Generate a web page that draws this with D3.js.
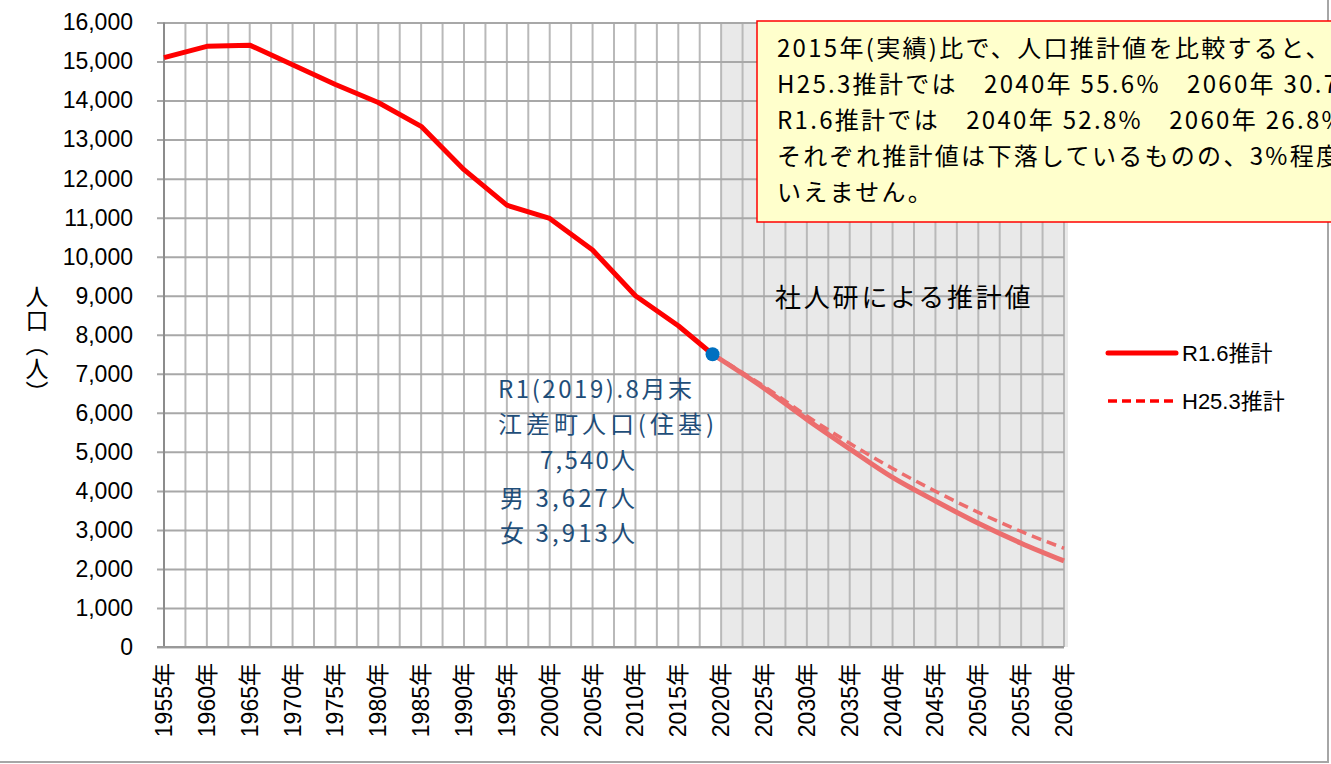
<!DOCTYPE html>
<html lang="ja">
<head>
<meta charset="UTF-8">
<script src="https://cdn.jsdelivr.net/npm/d3@7"></script>
<style>
  body { margin: 0; background: #fff; }
  svg { display: block; }
  text { font-family: "Liberation Sans", "Noto Sans CJK JP", sans-serif; }
  .jp { font-family: "Noto Sans CJK JP", sans-serif; }
</style>
</head>
<body>
<script>
// actual population (residents) and the two projections
var histYears  = [1955, 1960, 1965, 1970, 1975, 1980, 1985, 1990, 1995, 2000, 2005, 2010, 2015, 2019];
var histValues = [15100, 15390, 15420, 14920, 14410, 13950, 13340, 12230, 11320, 10980, 10170, 9000, 8230, 7500];

var projYears = [2019, 2025, 2030, 2035, 2040, 2045, 2050, 2055, 2060];
var r16Values = [7500, 6630, 5830, 5075, 4345, 3740, 3170, 2660, 2205];
var h25Values = [7500, 6680, 5920, 5220, 4575, 3990, 3450, 2960, 2530];

var tickYears = d3.range(1955, 2061, 5);
var gridYears = d3.range(1955, 2061, 2.5);
var yTicks = d3.range(0, 16001, 1000);

var legendLabels = ["R1.6推計", "H25.3推計"];
var noteLines = [
  "2015年(実績)比で、人口推計値を比較すると、",
  "H25.3推計では　2040年 55.6%　2060年 30.7%",
  "R1.6推計では　2040年 52.8%　2060年 26.8%",
  "それぞれ推計値は下落しているものの、3%程度",
  "いえません。"
];
var currentLines = ["R1(2019).8月末", "江差町人口(住基)", "7,540人", "男 3,627人", "女 3,913人"];

var W = 1331, H = 764;
var plotL = 164, plotR = 1064, plotT = 22.5, plotB = 647;

var svg = d3.select("body").append("svg")
  .attr("width", W)
  .attr("height", H);

// outer frame
svg.append("rect")
  .attr("x", -2).attr("y", -2)
  .attr("width", 1330).attr("height", 764)
  .attr("fill", "none").attr("stroke", "#a6a6a6").attr("stroke-width", 2);

var x = d3.scaleLinear().domain([1955, 2060]).range([plotL, plotR]);
var y = d3.scaleLinear().domain([0, 16000]).range([plotB, plotT]);

// projection period shading
svg.append("rect")
  .attr("x", x(2020)).attr("y", plotT)
  .attr("width", x(2060) - x(2020) + 4).attr("height", plotB - plotT)
  .attr("fill", "#e9e9e9");

// vertical grid
svg.append("g").selectAll("line").data(gridYears).enter().append("line")
  .attr("x1", function(d) { return x(d); })
  .attr("x2", function(d) { return x(d); })
  .attr("y1", plotT).attr("y2", plotB)
  .attr("stroke", "#b9b9b9").attr("stroke-width", 2);

// y axis with long ticks as horizontal grid
var yAxis = svg.append("g")
  .attr("transform", "translate(" + plotL + ",0)")
  .call(d3.axisLeft(y).tickValues(yTicks).tickSizeInner(-(plotR - plotL)).tickSizeOuter(0)
    .tickFormat(d3.format(",")).tickPadding(31));
yAxis.select(".domain").remove();
yAxis.selectAll(".tick line").attr("stroke", "#a8a8a8").attr("stroke-width", 2).attr("x1", -7);
yAxis.selectAll(".tick text").attr("font-size", 23).attr("fill", "#000")
  .style("font-family", "'Liberation Sans', sans-serif");

// axis lines
svg.append("line").attr("x1", plotL).attr("x2", plotL).attr("y1", plotT).attr("y2", plotB)
  .attr("stroke", "#8c8c8c").attr("stroke-width", 2);
svg.append("line").attr("x1", plotL - 7).attr("x2", plotR).attr("y1", plotB).attr("y2", plotB)
  .attr("stroke", "#999").attr("stroke-width", 2);

// x labels
svg.append("g").selectAll("text").data(tickYears).enter().append("text")
  .attr("transform", function(d) { return "translate(" + (x(d) + 8) + ",663) rotate(-90)"; })
  .attr("text-anchor", "end")
  .attr("font-size", 23)
  .text(function(d) { return d + "年"; });

// y title, vertical writing
svg.append("text")
  .attr("class", "jp")
  .attr("x", 37).attr("y", 285)
  .attr("font-size", 23)
  .attr("letter-spacing", 1)
  .style("writing-mode", "vertical-rl")
  .text("人口（人）");

var line = d3.line()
  .x(function(d) { return x(d[0]); })
  .y(function(d) { return y(d[1]); });
var smooth = d3.line()
  .curve(d3.curveMonotoneX)
  .x(function(d) { return x(d[0]); })
  .y(function(d) { return y(d[1]); });

svg.append("path")
  .attr("d", smooth(d3.zip(projYears, h25Values)))
  .attr("fill", "none").attr("stroke", "#ec6e6e").attr("stroke-width", 3.5)
  .attr("stroke-dasharray", "10,6");
svg.append("path")
  .attr("d", smooth(d3.zip(projYears, r16Values)))
  .attr("fill", "none").attr("stroke", "#ec6e6e").attr("stroke-width", 5);
svg.append("path")
  .attr("d", line(d3.zip(histYears, histValues)))
  .attr("fill", "none").attr("stroke", "#ff0000").attr("stroke-width", 5)
  .attr("stroke-linejoin", "round");

svg.append("circle")
  .attr("cx", x(histYears[histYears.length - 1]))
  .attr("cy", y(histValues[histValues.length - 1]))
  .attr("r", 7).attr("fill", "#0070c0");

// current population note
var curX = [498, 498, 540, 500, 500];
var curY = [398, 433, 469, 507, 542];
var curLen = [194, 216, 95, 135, 135];
svg.append("g").selectAll("text").data(currentLines).enter().append("text")
  .attr("class", "jp")
  .attr("x", function(d, i) { return curX[i]; })
  .attr("y", function(d, i) { return curY[i]; })
  .attr("textLength", function(d, i) { return curLen[i]; })
  .attr("font-size", 24)
  .attr("fill", "#1f4e79")
  .text(function(d) { return d; });

svg.append("text")
  .attr("class", "jp")
  .attr("x", 775).attr("y", 307)
  .attr("font-size", 26)
  .attr("letter-spacing", 2.8)
  .text("社人研による推計値");

// legend
svg.append("line").attr("x1", 1108).attr("x2", 1176).attr("y1", 353).attr("y2", 353)
  .attr("stroke", "#ff0000").attr("stroke-width", 5).attr("stroke-linecap", "round");
svg.append("line").attr("x1", 1108).attr("x2", 1176).attr("y1", 401).attr("y2", 401)
  .attr("stroke", "#ff0000").attr("stroke-width", 3.5).attr("stroke-dasharray", "9,5");
svg.append("g").selectAll("text").data(legendLabels).enter().append("text")
  .attr("x", 1182)
  .attr("y", function(d, i) { return 361 + i * 48; })
  .attr("font-size", 22)
  .text(function(d) { return d; });

// comment box
svg.append("rect")
  .attr("x", 757).attr("y", 21)
  .attr("width", 600).attr("height", 201)
  .attr("fill", "#ffffcc").attr("stroke", "#ff0000").attr("stroke-width", 1.5);
svg.append("g").selectAll("text").data(noteLines).enter().append("text")
  .attr("class", "jp")
  .attr("x", 777)
  .attr("y", function(d, i) { return 57 + i * 36; })
  .attr("font-size", 24)
  .attr("letter-spacing", 2.3)
  .text(function(d) { return d; });
</script>
</body>
</html>
